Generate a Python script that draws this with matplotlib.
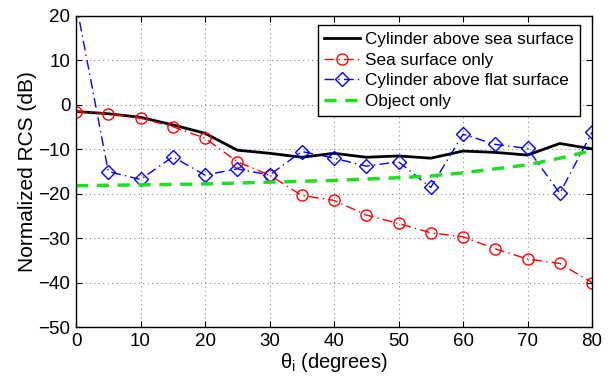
import matplotlib
matplotlib.use("Agg")
import matplotlib.pyplot as plt
import numpy as np

plt.rcParams['font.family'] = ['Liberation Sans', 'DejaVu Sans']
plt.rcParams['mathtext.fontset'] = 'custom'
plt.rcParams['mathtext.rm'] = 'Liberation Sans'
plt.rcParams['mathtext.it'] = 'Liberation Sans'
plt.rcParams['mathtext.default'] = 'regular'

theta = [0, 5, 10, 15, 20, 25, 30, 35, 40, 45, 50, 55, 60, 65, 70, 75, 80]

cyl_sea = [-1.5, -2.0, -2.8, -4.5, -6.4, -10.2, -10.9, -11.8, -10.9, -11.8, -11.5,
           -12.0, -10.4, -10.7, -11.3, -8.7, -9.9]
sea_only = [-1.5, -2.0, -3.0, -4.9, -7.5, -12.8, -15.8, -20.4, -21.5, -24.8, -26.7,
            -28.8, -29.7, -32.4, -34.7, -35.7, -40.0]
cyl_flat = [23.0, -15.0, -16.8, -11.7, -15.8, -14.4, -15.8, -10.5, -12.0, -13.8,
            -12.8, -18.6, -6.6, -8.9, -9.8, -19.9, -6.2]
obj_only = [-18.2, -18.1, -18.0, -17.9, -17.8, -17.6, -17.4, -17.2, -17.0, -16.7,
            -16.4, -16.0, -15.3, -14.4, -13.5, -12.0, -10.3]

labels = ['Cylinder above sea surface', 'Sea surface only',
          'Cylinder above flat surface', 'Object only']

fig = plt.figure(figsize=(6.14, 3.81), dpi=100)
ax = fig.add_axes([76 / 614, 1 - 327 / 381, (592 - 76) / 614, (327 - 16) / 381])

ax.plot(theta, cyl_sea, color='black', lw=2.0, label=labels[0])
ax.plot(theta, sea_only, color='red', lw=1.0, ls=(0, (7, 3, 1, 3)), marker='o', ms=8,
        mfc='none', mec='red', mew=1.0, label=labels[1])
ax.plot(theta, cyl_flat, color='blue', lw=1.0, ls=(0, (7, 3, 1, 3)), marker='D', ms=7,
        mfc='none', mec='blue', mew=1.0, label=labels[2])
ax.plot(theta, obj_only, color='#22dd22', lw=2.5, ls=(0, (3.5, 2.5)), label=labels[3])

ax.set_xlim(0, 80)
ax.set_ylim(-50, 20)
ax.set_xticks(range(0, 81, 10))
ax.set_yticks(range(-50, 21, 10))
ax.grid(True, color='#888888', ls=(0, (1, 3)), lw=0.8)
ax.tick_params(direction='in', top=True, right=True, labelsize=13.5, length=4, pad=4)
for s in ax.spines.values():
    s.set_linewidth(1.0)

ax.set_xlabel(r'$\theta_{i}$ (degrees)', fontsize=14.5, labelpad=1)
ax.set_ylabel('Normalized RCS (dB)', fontsize=15, labelpad=1)

leg = ax.legend(loc='upper right', bbox_to_anchor=(0.977, 0.97), fontsize=12.3,
                frameon=True, fancybox=False, framealpha=1, edgecolor='black',
                borderpad=0.4, handlelength=2.1, handletextpad=0.25, labelspacing=0.33,
                borderaxespad=0)
leg.get_frame().set_linewidth(1.0)

fig.savefig('out.png', dpi=100)
